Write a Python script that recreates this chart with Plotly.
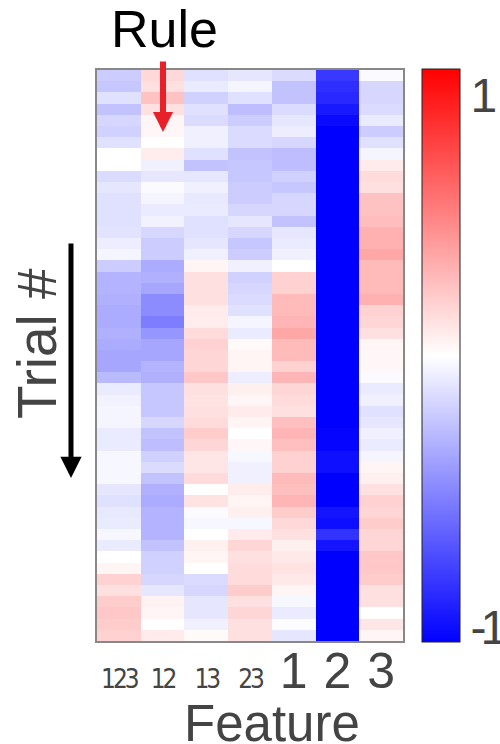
import numpy as np
import plotly.graph_objects as go

features = ["123", "12", "13", "23", "1", "2", "3"]

f123 = [-0.20, -0.22, -0.12, -0.24, -0.16, -0.18, -0.12, 0.00, 0.00, -0.14,
        -0.10, -0.12, -0.12, -0.12, -0.11, -0.07, -0.04, -0.20, -0.30, -0.30,
        -0.31, -0.33, -0.33, -0.31, -0.33, -0.35, -0.35, -0.27, -0.08, -0.05,
        -0.04, -0.04, -0.08, -0.08, -0.03, -0.03, -0.03, -0.10, -0.12, -0.09,
        -0.08, -0.03, -0.08, 0.00, 0.04, 0.18, 0.12, 0.20, 0.22, 0.20, 0.18]
f12 = [0.15, 0.12, 0.24, 0.12, 0.04, 0.03, 0.00, 0.07, -0.06, -0.10,
       -0.02, -0.04, -0.08, -0.05, -0.16, -0.20, -0.20, -0.33, -0.31, -0.35,
       -0.45, -0.45, -0.51, -0.41, -0.35, -0.35, -0.30, -0.31, -0.22, -0.22,
       -0.22, -0.16, -0.24, -0.26, -0.18, -0.14, -0.24, -0.31, -0.33, -0.30,
       -0.30, -0.30, -0.24, -0.18, -0.18, -0.16, -0.10, 0.05, 0.04, 0.00, 0.08]
f13 = [-0.12, -0.08, -0.18, -0.12, -0.14, -0.06, -0.06, -0.12, -0.24, -0.10,
       -0.06, -0.09, -0.08, -0.12, -0.12, -0.10, -0.06, 0.04, 0.12, 0.12,
       0.12, 0.08, 0.07, 0.14, 0.18, 0.16, 0.16, 0.22, 0.12, 0.11,
       0.12, 0.14, 0.20, 0.16, 0.10, 0.10, 0.14, 0.00, 0.11, -0.02,
       -0.03, 0.00, 0.06, 0.04, 0.00, -0.14, -0.16, -0.10, -0.10, -0.06, 0.02]
f23 = [-0.10, -0.04, -0.12, -0.26, -0.20, -0.14, -0.14, -0.24, -0.22, -0.22,
       -0.20, -0.20, -0.16, -0.10, -0.16, -0.22, -0.20, -0.06, -0.18, -0.16,
       -0.14, -0.12, -0.04, -0.08, 0.02, 0.04, 0.04, -0.07, 0.06, 0.03,
       0.08, 0.04, 0.00, 0.03, -0.03, -0.06, -0.06, 0.07, 0.04, 0.06,
       -0.03, 0.08, 0.16, 0.12, 0.14, 0.14, 0.20, 0.12, 0.16, 0.12, 0.12]
f1 = [-0.14, -0.24, -0.24, -0.14, -0.10, -0.07, -0.16, -0.26, -0.26, -0.18,
      -0.22, -0.16, -0.16, -0.24, -0.10, -0.08, -0.06, 0.00, 0.18, 0.18,
      0.27, 0.27, 0.29, 0.35, 0.27, 0.27, 0.18, 0.29, 0.16, 0.14,
      0.12, 0.25, 0.29, 0.25, 0.18, 0.18, 0.27, 0.25, 0.29, 0.20,
      0.15, 0.12, 0.06, 0.09, 0.11, 0.09, 0.04, -0.03, -0.08, -0.01, -0.10]
f2 = [-0.78, -0.82, -0.84, -0.90, -0.96, -1.00, -1.00, -1.00, -1.00, -1.00,
      -1.00, -1.00, -1.00, -1.00, -1.00, -1.00, -1.00, -1.00, -1.00, -1.00,
      -1.00, -1.00, -1.00, -1.00, -1.00, -1.00, -1.00, -1.00, -1.00, -1.00,
      -1.00, -1.00, -0.98, -0.98, -0.94, -0.94, -1.00, -1.00, -1.00, -0.92,
      -0.95, -0.80, -0.92, -1.00, -1.00, -1.00, -1.00, -1.00, -1.00, -1.00, -1.00]
f3 = [-0.02, -0.16, -0.16, -0.14, -0.08, -0.20, -0.12, -0.04, 0.08, 0.14,
      0.12, 0.24, 0.24, 0.26, 0.31, 0.31, 0.35, 0.27, 0.27, 0.27,
      0.31, 0.18, 0.16, 0.12, 0.04, 0.03, 0.03, -0.02, -0.08, -0.06,
      -0.12, -0.10, -0.06, -0.08, -0.04, 0.04, 0.06, 0.12, 0.18, 0.16,
      0.20, 0.16, 0.16, 0.22, 0.22, 0.20, 0.12, 0.12, 0.00, 0.10, 0.04]

colorbar_ticks = ["1", "-1"]

z = np.column_stack([f123, f12, f13, f23, f1, f2, f3])
n_rows = z.shape[0]

NARROW = ("font-size:26px;letter-spacing:-3px;"
          "font-family:'Liberation Sans Narrow','Arial Narrow','DejaVu Sans Condensed'")
ticktext = []
for lab in features:
    if len(lab) > 1:
        ticktext.append('<span style="' + NARROW + '">' + lab + '</span>')
    else:
        ticktext.append(lab)

# tight minus sign on the colour-bar labels
cb_text = []
for t in colorbar_ticks:
    if t.startswith("-"):
        cb_text.append('<span style="letter-spacing:-6px">-</span>' + t[1:])
    else:
        cb_text.append(t)

fig = go.Figure(go.Heatmap(
    z=z,
    x=list(range(len(features))),
    y=list(range(n_rows)),
    zmin=-1, zmax=1,
    colorscale=[[0, "rgb(0,0,255)"], [0.5, "rgb(255,255,255)"], [1, "rgb(255,0,0)"]],
    colorbar=dict(
        thickness=38, lenmode="pixels", len=573,
        x=1.062, xanchor="left", xpad=0, ypad=0,
        y=0.5, yanchor="middle",
        outlinewidth=1, outlinecolor="#222",
        tickvals=[0.91, -0.95], ticktext=cb_text,
        ticks="", ticklen=0,
        tickfont=dict(family="Liberation Sans", size=48, color="#444"),
    ),
    hoverinfo="skip",
))

GRAY = "#444444"
fig.update_layout(
    width=500, height=744,
    margin=dict(l=97, r=97, t=70, b=103, autoexpand=False),
    paper_bgcolor="white", plot_bgcolor="white",
    font=dict(family="Liberation Sans", color=GRAY),
    xaxis=dict(
        tickvals=list(range(len(features))), ticktext=ticktext,
        tickangle=0, ticklabelstandoff=-15,
        tickfont=dict(family="Liberation Sans", size=50, color=GRAY),
        ticks="", showgrid=False, zeroline=False,
        showline=True, mirror=True, linecolor="#888", linewidth=1.5,
        range=[-0.5, len(features) - 0.5],
    ),
    yaxis=dict(
        autorange="reversed", showticklabels=False, ticks="",
        showgrid=False, zeroline=False,
        showline=True, mirror=True, linecolor="#888", linewidth=1.5,
    ),
    annotations=[
        dict(text="Rule", x=0.222, y=1.072, xref="paper", yref="paper",
             xanchor="center", yanchor="middle", showarrow=False,
             font=dict(family="Liberation Sans", size=52, color="black")),
        dict(text="", x=0.2157, y=0.8914, xref="paper", yref="paper",
             ax=0, ay=-72, showarrow=True, arrowhead=2, arrowwidth=6,
             arrowsize=0.67, arrowcolor="#e8202a", standoff=0, font=dict(size=1)),
        dict(text="Trial #", x=-0.196, y=0.52, xref="paper", yref="paper",
             xanchor="center", yanchor="middle", textangle=-90, showarrow=False,
             font=dict(family="Liberation Sans", size=55, color=GRAY)),
        dict(text="", x=-0.085, y=0.2855, xref="paper", yref="paper",
             ax=0, ay=-236, showarrow=True, arrowhead=2, arrowwidth=5,
             arrowsize=0.85, arrowcolor="black", standoff=0, font=dict(size=1)),
        dict(text="Feature", x=0.572, y=-0.145, xref="paper", yref="paper",
             xanchor="center", yanchor="middle", showarrow=False,
             font=dict(family="Liberation Sans", size=51, color=GRAY)),
    ],
)

fig.write_html("out.html", post_script="document.body.style.margin='0';",
               config={"displayModeBar": False})
